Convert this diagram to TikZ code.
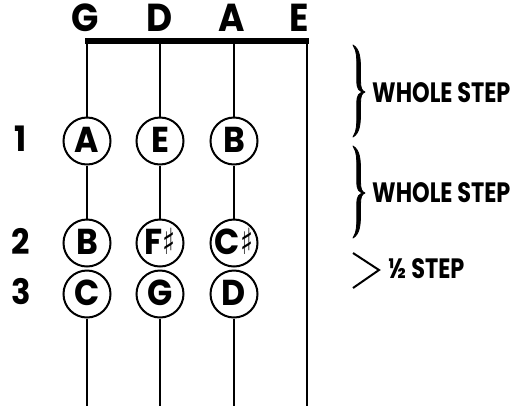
\documentclass[tikz,border=0pt]{standalone}
\usepackage{fontspec}
\newfontfamily\cfont{Poppins}[FakeStretch=0.92]
\newfontfamily\nfont{Poppins}[FakeStretch=0.8]
\newfontfamily\symfont{DejaVu Sans}[FakeStretch=0.75]
\newcommand{\shp}{{\symfont\fontsize{36}{36}\selectfont ♯}}
\tikzset{
  note/.style={circle,draw,line width=2pt,fill=white,minimum size=47pt,inner sep=0pt,
    font=\cfont\bfseries\fontsize{36}{36}\selectfont,text height=22pt,text depth=0pt},
  strline/.style={line width=1.8pt},
  nutline/.style={line width=5.5pt},
  strname/.style={font=\cfont\bfseries\fontsize{39}{39}\selectfont,inner sep=0pt,text height=25pt,text depth=0pt},
  fretnum/.style={font=\cfont\bfseries\fontsize{35}{35}\selectfont,inner sep=0pt,text height=22pt,text depth=0pt},
  steplabel/.style={font=\nfont\bfseries\fontsize{28}{28}\selectfont,inner sep=0pt,anchor=west,text height=19pt,text depth=0pt},
  curly/.pic={\filldraw[line width=0.8pt,line join=round]
     (0,0) .. controls (7,4) and (7.5,14) .. (7.5,24) -- (7.5,36)
     .. controls (7.5,43) and (9,46) .. (12,47)
     .. controls (9,48) and (7.5,51) .. (7.5,58) -- (7.5,68)
     .. controls (7.5,78) and (7,88) .. (0,92)
     .. controls (4,86) and (3.8,78) .. (3.8,68) -- (3.8,58)
     .. controls (3.8,50) and (6,48) .. (10,47)
     .. controls (6,46) and (3.8,44) .. (3.8,36) -- (3.8,24)
     .. controls (3.8,14) and (4,6) .. (0,0) -- cycle;},
}
\begin{document}
\begin{tikzpicture}[x=1pt,y=-1pt]
\useasboundingbox (0,0) rectangle (513,405);
% string names
\node[strname] (nG) at (85,19) {G};
\node[strname] (nD) at (160,19) {D};
\node[strname] (nA) at (232,19) {A};
\node[strname] (nE) at (299,19) {E};
% nut and string ends
\coordinate (tG) at (87,41);
\coordinate (tD) at (160,41);
\coordinate (tA) at (234,41);
\coordinate (tE) at (307,41);
\coordinate (bG) at (87,406);
\coordinate (bD) at (160,406);
\coordinate (bA) at (234,406);
\coordinate (bE) at (307,406);
% notes
\node[note] (A1) at (87,141) {A};
\node[note] (E1) at (160,141) {E};
\node[note] (B1) at (234,141) {B};
\node[note] (B2) at (87,243) {B};
\node[note] (Fs2) at (160,243) {F\shp};
\node[note] (Cs2) at (234,243) {C\shp};
\node[note] (C3) at (87,294) {C};
\node[note] (G3) at (160,294) {G};
\node[note] (D3) at (234,294) {D};
% strings
\draw[strline] (tG) -- (A1) (A1) -- (B2) (C3) -- (bG);
\draw[strline] (tD) -- (E1) (E1) -- (Fs2) (G3) -- (bD);
\draw[strline] (tA) -- (B1) (B1) -- (Cs2) (D3) -- (bA);
\draw[strline] (tE) -- (bE);
\draw[nutline] ([xshift=-2pt]tG) -- ([xshift=2pt]tE);
% fret numbers
\node[fretnum] (f1) at (21,140) {1};
\node[fretnum] (f2) at (21,243) {2};
\node[fretnum] (f3) at (21,293) {3};
% step markers
\pic at (353,45) {curly};
\pic at (353,146) {curly};
\draw[line width=2pt] (353,253) -- (379,270) -- (353,288);
\node[steplabel] (w1) at (372,93) {WHOLE STEP};
\node[steplabel] (w2) at (372,193) {WHOLE STEP};
\node[steplabel] (h1) at (388,269) {½ STEP};
\end{tikzpicture}
\end{document}
